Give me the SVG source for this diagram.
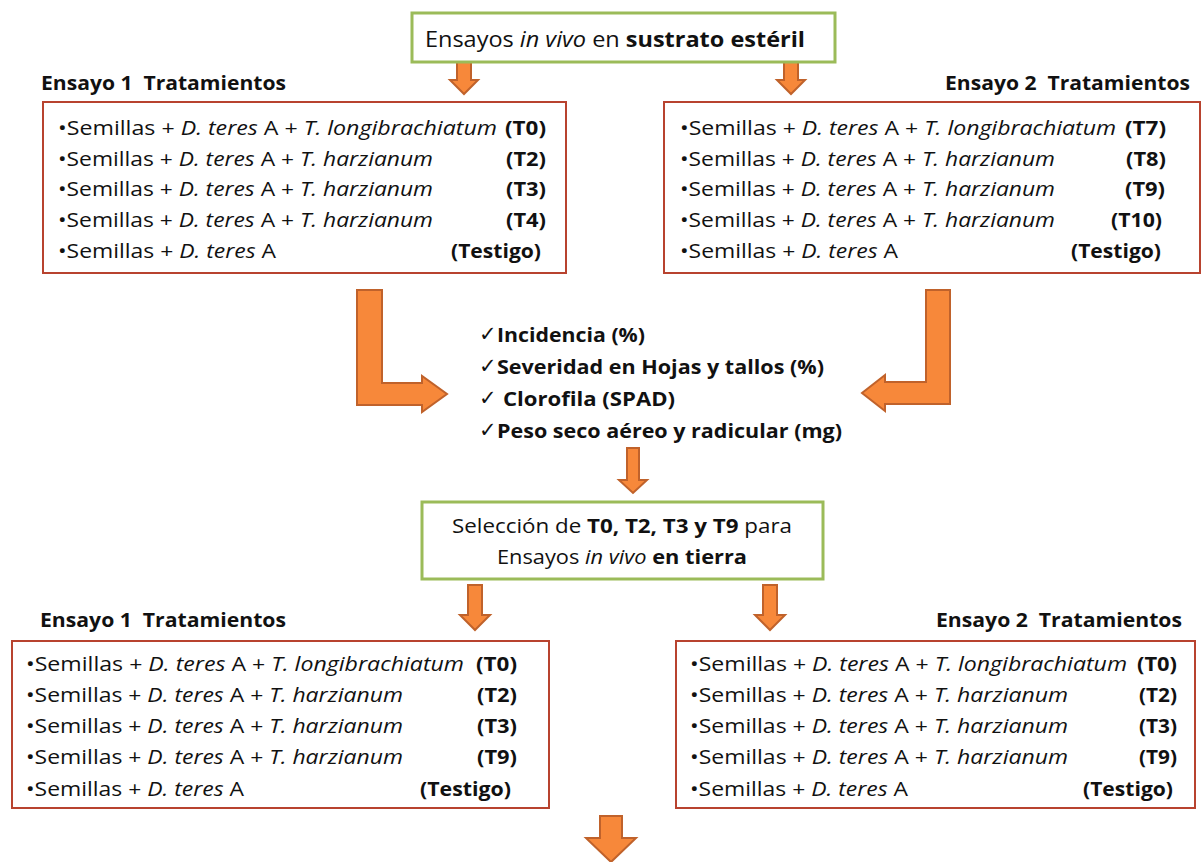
<svg xmlns="http://www.w3.org/2000/svg" width="1202" height="862" viewBox="0 0 1202 862">
<style>
text{font-family:"Open Sans","Liberation Sans",sans-serif;fill:#111;}
.t{font-size:19.5px;}
.h{font-size:19.5px;font-weight:bold;}
.b{font-weight:bold;}
.i{font-style:italic;}
.ck{font-size:19.5px;font-weight:bold;}
.cm{font-family:"DejaVu Sans",sans-serif;font-size:21px;}
.gbox{fill:#fff;stroke:#9BBB59;stroke-width:3;}
.rbox{fill:#fff;stroke:#B8432F;stroke-width:2;}
.arr{fill:#F7883A;stroke:#C0622B;stroke-width:2;stroke-linejoin:miter;}
</style>
<defs>
<path id="a1" d="M-7,0 h14 v20 h7 l-14,14 l-14,-14 h7 z"/>
<path id="a3" d="M-7,0 h14 v30 h8 l-15,15 l-15,-15 h8 z"/>
</defs>

<g id="connectors">
<use href="#a1" class="arr" x="464" y="60"/>
<use href="#a1" class="arr" x="791" y="60"/>
<path class="arr" d="M357,290 L382,290 L382,383 L422,383 L422,376 L447,394 L422,412 L422,405 L357,405 Z"/>
<path class="arr" d="M926,290 L950,290 L950,404 L885,404 L885,411 L862,393 L885,375 L885,382 L926,382 Z"/>
<path class="arr" d="M627,448 h12 v32 h8 l-14,13 l-14,-13 h8 z"/>
<use href="#a3" class="arr" x="475" y="585"/>
<use href="#a3" class="arr" x="770" y="585"/>
<path class="arr" d="M600,816 h22 v22 h14 l-25,24 l-25,-24 h14 z"/>
</g>

<g id="top">
<rect class="gbox" x="412" y="13" width="423" height="49"/>
<text x="425" y="47" style="font-size:21.5px" textLength="380" lengthAdjust="spacingAndGlyphs">Ensayos <tspan class="i">in vivo</tspan> en <tspan class="b">sustrato estéril</tspan></text>
</g>

<g id="ensayo1">
<text class="h" x="41" y="90" xml:space="preserve" textLength="245" lengthAdjust="spacingAndGlyphs">Ensayo 1  Tratamientos</text>
<rect class="rbox" x="43" y="102" width="523" height="171"/>
<text class="t" x="58" y="135" textLength="439" lengthAdjust="spacingAndGlyphs">•Semillas + <tspan class="i">D. teres</tspan> A + <tspan class="i">T. longibrachiatum</tspan></text>
<text class="t b" x="546" y="135" text-anchor="end" textLength="41" lengthAdjust="spacingAndGlyphs">(T0)</text>
<text class="t" x="58" y="166" textLength="375" lengthAdjust="spacingAndGlyphs">•Semillas + <tspan class="i">D. teres</tspan> A + <tspan class="i">T. harzianum</tspan></text>
<text class="t b" x="546" y="166" text-anchor="end" textLength="40" lengthAdjust="spacingAndGlyphs">(T2)</text>
<text class="t" x="58" y="196" textLength="375" lengthAdjust="spacingAndGlyphs">•Semillas + <tspan class="i">D. teres</tspan> A + <tspan class="i">T. harzianum</tspan></text>
<text class="t b" x="546" y="196" text-anchor="end" textLength="40" lengthAdjust="spacingAndGlyphs">(T3)</text>
<text class="t" x="58" y="227" textLength="375" lengthAdjust="spacingAndGlyphs">•Semillas + <tspan class="i">D. teres</tspan> A + <tspan class="i">T. harzianum</tspan></text>
<text class="t b" x="546" y="227" text-anchor="end" textLength="40" lengthAdjust="spacingAndGlyphs">(T4)</text>
<text class="t" x="58" y="258" textLength="218" lengthAdjust="spacingAndGlyphs">•Semillas + <tspan class="i">D. teres</tspan> A</text>
<text class="t b" x="541" y="258" text-anchor="end" textLength="90" lengthAdjust="spacingAndGlyphs">(Testigo)</text>
</g>

<g id="ensayo2">
<text class="h" x="1190" y="90" text-anchor="end" xml:space="preserve" textLength="245" lengthAdjust="spacingAndGlyphs">Ensayo 2  Tratamientos</text>
<rect class="rbox" x="664" y="102" width="536" height="171"/>
<text class="t" x="680" y="135" textLength="436" lengthAdjust="spacingAndGlyphs">•Semillas + <tspan class="i">D. teres</tspan> A + <tspan class="i">T. longibrachiatum</tspan></text>
<text class="t b" x="1166" y="135" text-anchor="end" textLength="41" lengthAdjust="spacingAndGlyphs">(T7)</text>
<text class="t" x="680" y="166" textLength="375" lengthAdjust="spacingAndGlyphs">•Semillas + <tspan class="i">D. teres</tspan> A + <tspan class="i">T. harzianum</tspan></text>
<text class="t b" x="1166" y="166" text-anchor="end" textLength="40" lengthAdjust="spacingAndGlyphs">(T8)</text>
<text class="t" x="680" y="196" textLength="375" lengthAdjust="spacingAndGlyphs">•Semillas + <tspan class="i">D. teres</tspan> A + <tspan class="i">T. harzianum</tspan></text>
<text class="t b" x="1165" y="196" text-anchor="end" textLength="40" lengthAdjust="spacingAndGlyphs">(T9)</text>
<text class="t" x="680" y="227" textLength="375" lengthAdjust="spacingAndGlyphs">•Semillas + <tspan class="i">D. teres</tspan> A + <tspan class="i">T. harzianum</tspan></text>
<text class="t b" x="1162" y="227" text-anchor="end" textLength="51" lengthAdjust="spacingAndGlyphs">(T10)</text>
<text class="t" x="680" y="258" textLength="218" lengthAdjust="spacingAndGlyphs">•Semillas + <tspan class="i">D. teres</tspan> A</text>
<text class="t b" x="1161" y="258" text-anchor="end" textLength="90" lengthAdjust="spacingAndGlyphs">(Testigo)</text>
</g>

<g id="variables">
<text class="cm" x="479" y="341">✓</text>
<text class="ck" x="497" y="342" textLength="148" lengthAdjust="spacingAndGlyphs">Incidencia (%)</text>
<text class="cm" x="479" y="373">✓</text>
<text class="ck" x="497" y="374" textLength="327" lengthAdjust="spacingAndGlyphs">Severidad en Hojas y tallos (%)</text>
<text class="cm" x="479" y="405">✓</text>
<text class="ck" x="503" y="406" textLength="172" lengthAdjust="spacingAndGlyphs">Clorofila (SPAD)</text>
<text class="cm" x="479" y="437">✓</text>
<text class="ck" x="497" y="438" textLength="345" lengthAdjust="spacingAndGlyphs">Peso seco aéreo y radicular (mg)</text>
</g>

<g id="seleccion">
<rect class="gbox" x="422" y="502" width="401" height="77"/>
<text class="t" x="452" y="533" textLength="340" lengthAdjust="spacingAndGlyphs">Selección de <tspan class="b">T0, T2, T3 y T9</tspan> para</text>
<text class="t" x="497" y="564" textLength="250" lengthAdjust="spacingAndGlyphs">Ensayos <tspan class="i">in vivo</tspan> <tspan class="b">en tierra</tspan></text>
</g>

<g id="ensayo1b">
<text class="h" x="40" y="627" xml:space="preserve" textLength="246" lengthAdjust="spacingAndGlyphs">Ensayo 1  Tratamientos</text>
<rect class="rbox" x="12" y="641" width="537" height="167"/>
<text class="t" x="26" y="671" textLength="438" lengthAdjust="spacingAndGlyphs">•Semillas + <tspan class="i">D. teres</tspan> A + <tspan class="i">T. longibrachiatum</tspan></text>
<text class="t b" x="517" y="671" text-anchor="end" textLength="41" lengthAdjust="spacingAndGlyphs">(T0)</text>
<text class="t" x="26" y="702" textLength="377" lengthAdjust="spacingAndGlyphs">•Semillas + <tspan class="i">D. teres</tspan> A + <tspan class="i">T. harzianum</tspan></text>
<text class="t b" x="517" y="702" text-anchor="end" textLength="40" lengthAdjust="spacingAndGlyphs">(T2)</text>
<text class="t" x="26" y="733" textLength="377" lengthAdjust="spacingAndGlyphs">•Semillas + <tspan class="i">D. teres</tspan> A + <tspan class="i">T. harzianum</tspan></text>
<text class="t b" x="517" y="733" text-anchor="end" textLength="40" lengthAdjust="spacingAndGlyphs">(T3)</text>
<text class="t" x="26" y="764" textLength="377" lengthAdjust="spacingAndGlyphs">•Semillas + <tspan class="i">D. teres</tspan> A + <tspan class="i">T. harzianum</tspan></text>
<text class="t b" x="517" y="764" text-anchor="end" textLength="40" lengthAdjust="spacingAndGlyphs">(T9)</text>
<text class="t" x="26" y="796" textLength="218" lengthAdjust="spacingAndGlyphs">•Semillas + <tspan class="i">D. teres</tspan> A</text>
<text class="t b" x="511" y="796" text-anchor="end" textLength="91" lengthAdjust="spacingAndGlyphs">(Testigo)</text>
</g>

<g id="ensayo2b">
<text class="h" x="1182" y="627" text-anchor="end" xml:space="preserve" textLength="246" lengthAdjust="spacingAndGlyphs">Ensayo 2  Tratamientos</text>
<rect class="rbox" x="676" y="641" width="519" height="167"/>
<text class="t" x="690" y="671" textLength="437" lengthAdjust="spacingAndGlyphs">•Semillas + <tspan class="i">D. teres</tspan> A + <tspan class="i">T. longibrachiatum</tspan></text>
<text class="t b" x="1177" y="671" text-anchor="end" textLength="40" lengthAdjust="spacingAndGlyphs">(T0)</text>
<text class="t" x="690" y="702" textLength="378" lengthAdjust="spacingAndGlyphs">•Semillas + <tspan class="i">D. teres</tspan> A + <tspan class="i">T. harzianum</tspan></text>
<text class="t b" x="1177" y="702" text-anchor="end" textLength="38" lengthAdjust="spacingAndGlyphs">(T2)</text>
<text class="t" x="690" y="733" textLength="378" lengthAdjust="spacingAndGlyphs">•Semillas + <tspan class="i">D. teres</tspan> A + <tspan class="i">T. harzianum</tspan></text>
<text class="t b" x="1177" y="733" text-anchor="end" textLength="38" lengthAdjust="spacingAndGlyphs">(T3)</text>
<text class="t" x="690" y="764" textLength="378" lengthAdjust="spacingAndGlyphs">•Semillas + <tspan class="i">D. teres</tspan> A + <tspan class="i">T. harzianum</tspan></text>
<text class="t b" x="1177" y="764" text-anchor="end" textLength="38" lengthAdjust="spacingAndGlyphs">(T9)</text>
<text class="t" x="690" y="796" textLength="218" lengthAdjust="spacingAndGlyphs">•Semillas + <tspan class="i">D. teres</tspan> A</text>
<text class="t b" x="1173" y="796" text-anchor="end" textLength="90" lengthAdjust="spacingAndGlyphs">(Testigo)</text>
</g>
</svg>
